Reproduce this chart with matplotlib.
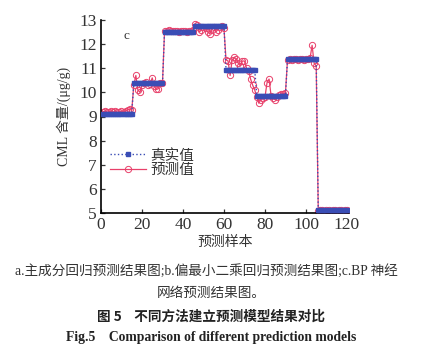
import matplotlib
matplotlib.use("Agg")
import matplotlib.pyplot as plt

samples = list(range(1, 121))
true_levels = [9.12, 10.38, 12.52, 12.75, 10.93, 9.87, 11.38, 5.12]
group_size = 15
true_vals = [v for v in true_levels for _ in range(group_size)]

pred_vals = [
    # 1-15
    9.20, 9.22, 9.18, 9.20, 9.21, 9.19, 9.22, 9.18, 9.20, 9.21, 9.19, 9.22, 9.28, 9.30, 9.25,
    # 16-30
    10.30, 10.70, 10.10, 10.00, 10.30, 10.40, 10.45, 10.30, 10.35, 10.60, 10.25, 10.12, 10.15, 10.40, 10.38,
    # 31-45
    12.55, 12.56, 12.57, 12.55, 12.54, 12.56, 12.55, 12.52, 12.54, 12.55, 12.53, 12.52, 12.55, 12.56, 12.60,
    # 46-60
    12.85, 12.78, 12.50, 12.60, 12.72, 12.65, 12.52, 12.42, 12.60, 12.70, 12.50, 12.60, 12.70, 12.75, 12.65,
    # 61-75
    11.35, 11.30, 10.70, 11.35, 11.45, 11.40, 11.20, 11.10, 11.30, 11.30, 11.00, 10.90, 10.55, 10.30, 10.10,
    # 76-90
    9.80, 9.55, 9.70, 9.75, 9.80, 10.40, 10.55, 9.85, 9.75, 9.70, 9.80, 9.88, 9.92, 9.95, 9.98,
    # 91-105
    11.35, 11.38, 11.36, 11.37, 11.38, 11.35, 11.37, 11.38, 11.36, 11.38, 11.40, 11.42, 11.95, 11.20, 11.10,
    # 106-120
    5.10, 5.12, 5.11, 5.10, 5.12, 5.11, 5.10, 5.12, 5.11, 5.10, 5.12, 5.11, 5.10, 5.12, 5.14,
]

yticks = [5, 6, 7, 8, 9, 10, 11, 12, 13]
xticks = [0, 20, 40, 60, 80, 100, 120]

cjk = ['Noto Sans CJK SC', 'DejaVu Sans']
serif = ['Liberation Serif', 'Noto Sans CJK SC']

fig = plt.figure(figsize=(4.22, 3.51), dpi=100)
ax = fig.add_axes([101/422, 138/351, 248/422, 193/351])

blue = '#3a4db5'
pink = '#e8406a'
ax.plot(samples, true_vals, linestyle=':', color=blue, linewidth=1.0,
        marker='s', markersize=2.5, markerfacecolor=blue, markeredgecolor=blue,
        label='真实值', zorder=3)
ax.plot(samples, pred_vals, linestyle='-', color=pink, linewidth=0.9,
        marker='o', markersize=4.5, markerfacecolor='none', markeredgecolor=pink,
        markeredgewidth=0.7, label='预测值', zorder=2)

ax.set_xlim(0, 121)
ax.set_ylim(5, 13)
ax.set_xticks(xticks)
ax.set_yticks(yticks)
ax.spines['top'].set_visible(False)
ax.spines['right'].set_visible(False)
ax.spines['left'].set_linewidth(1.2)
ax.spines['bottom'].set_linewidth(1.2)
ax.tick_params(direction='in', length=3, width=0.9, labelsize=12.5, pad=3, colors='#333333')
for lab in ax.get_xticklabels() + ax.get_yticklabels():
    lab.set_fontfamily(serif)

ax.text(0.09, 0.90, 'c', transform=ax.transAxes, fontsize=9.5, family=serif, color='#333333')

ax.set_ylabel('CML 含量/(μg/g)', family=serif, fontsize=10, labelpad=6, color='#333333')
ax.set_xlabel('预测样本', family=cjk, fontsize=10, labelpad=1, color='#333333')

leg = ax.legend(loc='lower left', bbox_to_anchor=(0.0, 0.14), frameon=False,
                prop={'family': cjk, 'size': 10.5}, handlelength=2.5,
                handletextpad=0.3, borderaxespad=0.2, labelspacing=0.05)
for t in leg.get_texts():
    t.set_color('#333333')

fig.text(0.49, 1 - 271/351, 'a.主成分回归预测结果图;b.偏最小二乘回归预测结果图;c.BP 神经',
         ha='center', va='center', family=serif, fontsize=9.8, color='#333333')
fig.text(0.5, 1 - 293/351, '网络预测结果图。', ha='center', va='center',
         family=serif, fontsize=9.8, color='#333333')
fig.text(0.5, 1 - 317/351, '图 5    不同方法建立预测模型结果对比', ha='center', va='center',
         family=cjk, fontsize=9.8, fontweight='bold', color='#222222')
fig.text(0.5, 1 - 338/351, 'Fig.5    Comparison of different prediction models', ha='center', va='center',
         family=serif, fontsize=9.8, fontweight='bold', color='#222222')

fig.savefig('out.png', dpi=100)
